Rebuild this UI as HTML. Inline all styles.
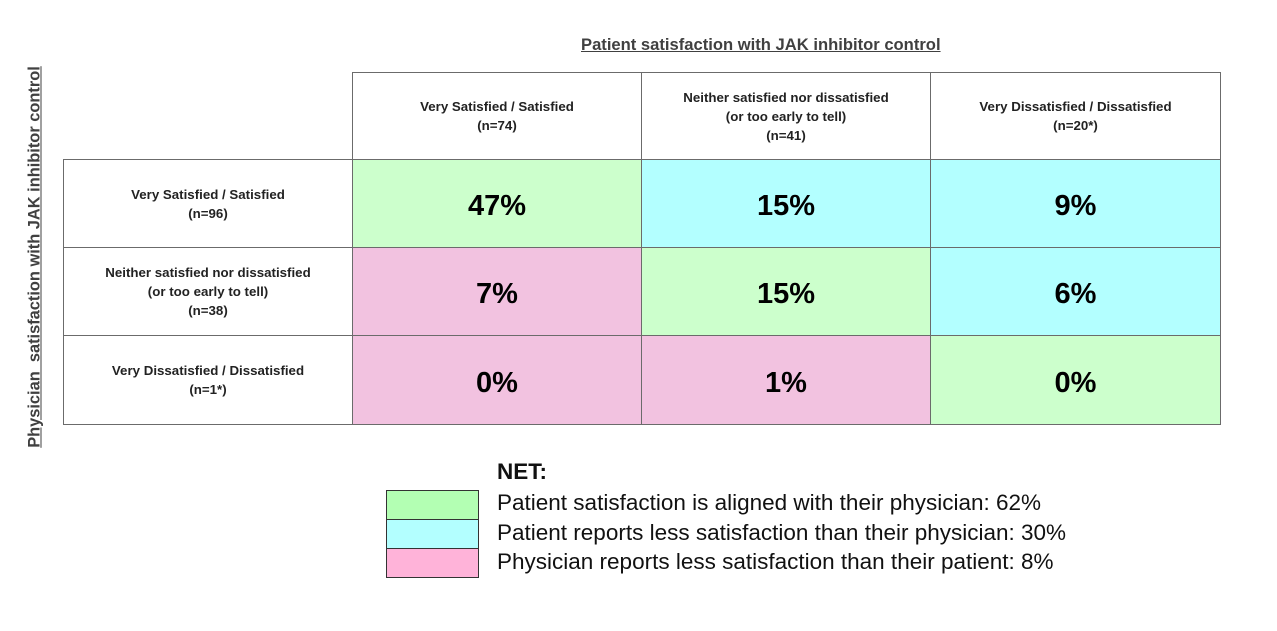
<!DOCTYPE html>
<html><head><meta charset="utf-8"><style>
body{margin:0;width:1277px;height:631px;background:#fff;position:relative;font-family:"Liberation Sans",sans-serif;overflow:hidden}
.a{position:absolute}
.c{position:absolute;box-sizing:border-box;border:1px solid #6b6b6b;display:flex;align-items:center;justify-content:center;text-align:center}
.h{font-size:13.3px;font-weight:bold;color:#222;line-height:19px}
.v{font-size:29px;font-weight:bold;color:#000;padding-top:6px}
.g{background:#ccffcc}.b{background:#b3ffff}.p{background:#f2c2e0}
.lg{position:absolute;left:386px;width:93px;height:30px;box-sizing:border-box;border:1.5px solid #333}
.lt{position:absolute;left:497px;font-size:22.5px;color:#111;white-space:nowrap}
</style></head><body>
<div class="a" style="left:581px;top:35px;font-size:16.6px;font-weight:bold;color:#404040;text-decoration:underline;white-space:nowrap">Patient satisfaction with JAK inhibitor control</div>
<div class="a" style="left:35px;top:257px;transform:translate(-50%,-50%) rotate(-90deg);white-space:nowrap;font-size:16.4px;font-weight:bold;color:#404040;text-decoration:underline">Physician&nbsp; satisfaction with JAK inhibitor control</div>

<div class="c h" style="left:352px;top:72px;width:290px;height:88px">Very Satisfied / Satisfied<br>(n=74)</div>
<div class="c h" style="left:641px;top:72px;width:290px;height:88px">Neither satisfied nor dissatisfied<br>(or too early to tell)<br>(n=41)</div>
<div class="c h" style="left:930px;top:72px;width:291px;height:88px">Very Dissatisfied / Dissatisfied<br>(n=20*)</div>

<div class="c h" style="left:63px;top:159px;width:290px;height:89px">Very Satisfied / Satisfied<br>(n=96)</div>
<div class="c h" style="left:63px;top:247px;width:290px;height:89px">Neither satisfied nor dissatisfied<br>(or too early to tell)<br>(n=38)</div>
<div class="c h" style="left:63px;top:335px;width:290px;height:90px">Very Dissatisfied / Dissatisfied<br>(n=1*)</div>

<div class="c v g" style="left:352px;top:159px;width:290px;height:89px">47%</div>
<div class="c v b" style="left:641px;top:159px;width:290px;height:89px">15%</div>
<div class="c v b" style="left:930px;top:159px;width:291px;height:89px">9%</div>
<div class="c v p" style="left:352px;top:247px;width:290px;height:89px">7%</div>
<div class="c v g" style="left:641px;top:247px;width:290px;height:89px">15%</div>
<div class="c v b" style="left:930px;top:247px;width:291px;height:89px">6%</div>
<div class="c v p" style="left:352px;top:335px;width:290px;height:90px">0%</div>
<div class="c v p" style="left:641px;top:335px;width:290px;height:90px">1%</div>
<div class="c v g" style="left:930px;top:335px;width:291px;height:90px">0%</div>

<div class="lt" style="top:459px;font-weight:bold">NET:</div>
<div class="lg" style="top:490px;background:#b3ffb3"></div>
<div class="lg" style="top:519px;background:#b3ffff"></div>
<div class="lg" style="top:548px;background:#ffb3d9"></div>
<div class="lt" style="top:490px">Patient satisfaction is aligned with their physician: 62%</div>
<div class="lt" style="top:520px">Patient reports less satisfaction than their physician: 30%</div>
<div class="lt" style="top:549px">Physician reports less satisfaction than their patient: 8%</div>
</body></html>
